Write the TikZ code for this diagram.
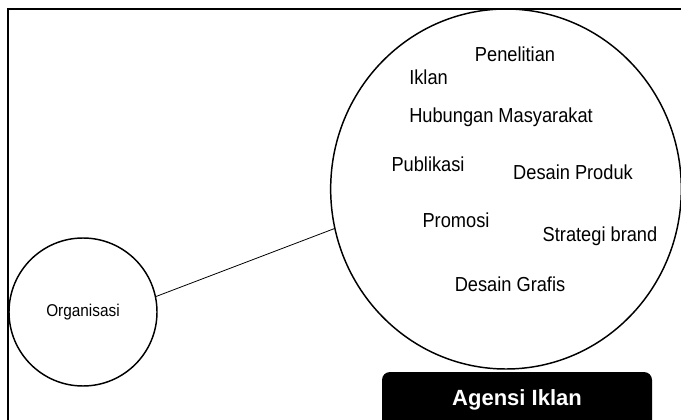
\documentclass[tikz,border=0pt]{standalone}
\usepackage{fontspec}
\setmainfont{Liberation Sans}
\newfontfamily\sempit{Liberation Sans}[FakeStretch=0.9]
\usetikzlibrary{shapes.geometric}

\begin{document}
\begin{tikzpicture}[x=0.75pt,y=-0.75pt,
  lingkaran/.style={draw,ellipse,line width=1.1pt,inner sep=0pt},
  bidang/.style={font=\sempit\fontsize{15.2}{17}\selectfont,inner sep=0pt},
  kotak/.style={fill=black,rounded corners=6pt,text=white,
    font=\bfseries\fontsize{16.5}{19}\selectfont,
    minimum width=202.5pt,minimum height=42pt,inner sep=0pt}]

\useasboundingbox (0,0) rectangle (681,420);
\clip (0,0) rectangle (681,420);

% Bingkai
\draw[line width=1.2pt]
(8,9)
rectangle
(700,440);

% Organisasi
\node[lingkaran,minimum width=111pt,minimum height=111pt,
  font=\sempit\fontsize{12.8}{14}\selectfont]
(organisasi) at (83,312) {Organisasi};

% Agensi
\node[lingkaran,minimum width=263pt,minimum height=270pt]
(agensi) at (506,189) {};

% Bidang kerja
\node[bidang] (penelitian) at (515,54) {Penelitian};
\node[bidang,anchor=west] (iklan) at (409,77) {Iklan};
\node[bidang,anchor=west] (humas) at (409,117) {Hubungan Masyarakat};
\node[bidang] (publikasi) at (428,164) {Publikasi};
\node[bidang] (produk) at (573,172) {Desain Produk};
\node[bidang] (promosi) at (456,220) {Promosi};
\node[bidang] (brand) at (600,236) {Strategi brand};
\node[bidang] (grafis) at (510,284) {Desain Grafis};

% Judul
\node[kotak] (judul) at (517,400) {Agensi Iklan};

% Hubungan
\draw[line width=0.6pt]
(organisasi.12)
--
(agensi.193);

\end{tikzpicture}
\end{document}
